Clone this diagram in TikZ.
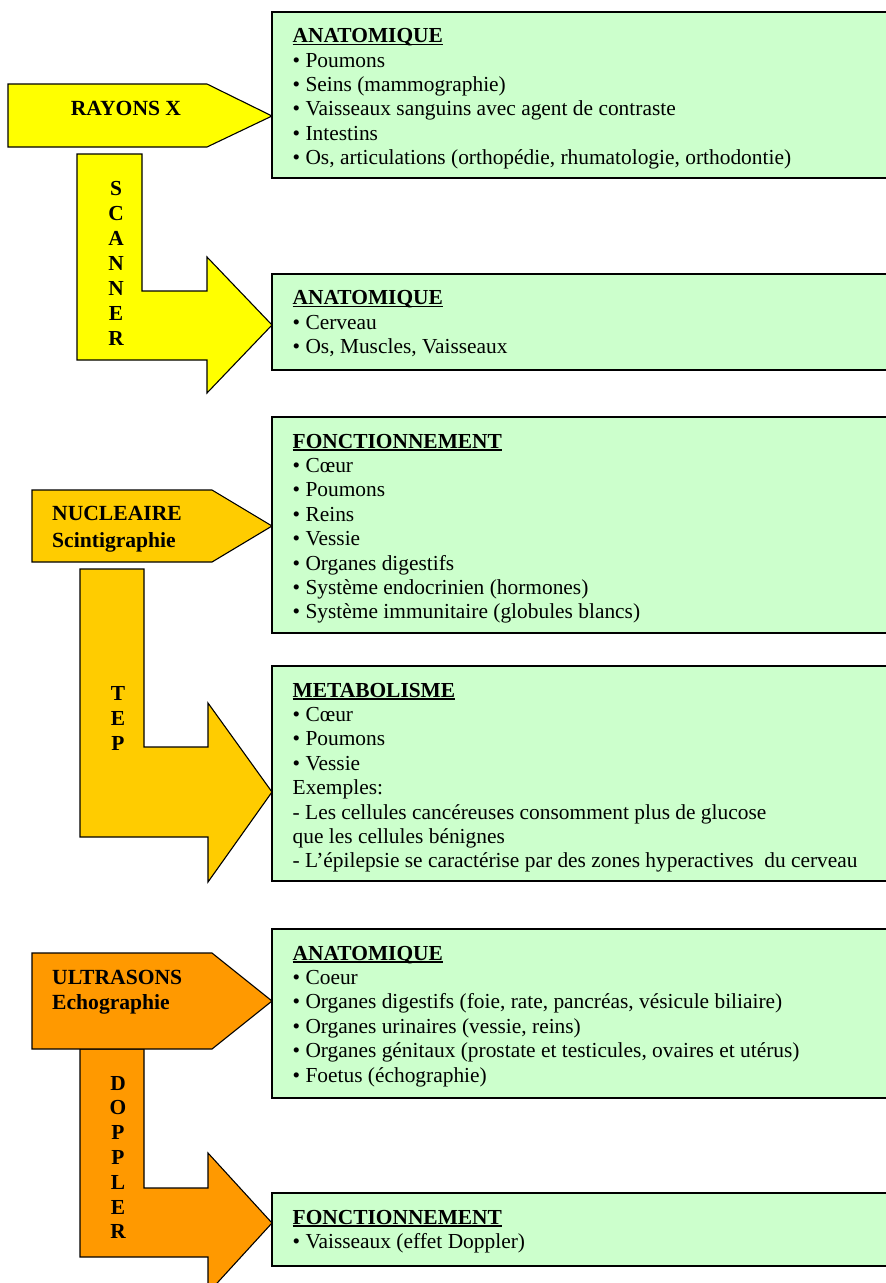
\documentclass[tikz,border=0pt]{standalone}
\usepackage{fontspec}
\setmainfont{Liberation Serif}
\definecolor{xray}{HTML}{FFFF00}
\definecolor{nucl}{HTML}{FFCC00}
\definecolor{ultra}{HTML}{FF9900}
\definecolor{infobg}{HTML}{CCFFCC}
% underlined heading with the rule set just under the baseline
\newcommand\headline[1]{\leavevmode\setbox0=\hbox{\bfseries #1}\rlap{\rule[-2.6pt]{\wd0}{1.4pt}}\box0}
\newcommand\itemlines[1]{\parbox[t]{600pt}{\raggedright\fontsize{21.4}{24.4}\selectfont #1}}
\newcommand\stackletters[2]{\parbox[t]{30pt}{\centering\fontsize{21.4}{#1}\selectfont\bfseries #2}}
\begin{document}
\begin{tikzpicture}[x=1pt,y=-1pt,
  shaftshape/.style={draw=black,line width=1.1pt,line join=miter},
  infobox/.style={draw=black,line width=1.6pt,fill=infobg},
  boxtext/.style={anchor=base west,inner sep=0pt},
  arrowlabel/.style={inner sep=0pt,font=\fontsize{21.6}{25}\selectfont\bfseries},
  vlabel/.style={anchor=base,inner sep=0pt}]
\path[use as bounding box,clip] (0,0) rectangle (886,1283);

% ---------- X-rays ----------
\draw[shaftshape,fill=xray] (77,154) -- (142,154) -- (142,291) -- (207,291) -- (207,257)
  -- (272,325) -- (207,393) -- (207,360) -- (77,360) -- cycle;
\draw[shaftshape,fill=xray] (8,84) -- (207,84) -- (272,116) -- (207,147) -- (8,147) -- cycle;
\node[arrowlabel,anchor=base] (rx) at (126,115) {RAYONS X};
\node[vlabel] (scan) at (116,195) {\stackletters{25}{S\\C\\A\\N\\N\\E\\R}};

\draw[infobox] (272,12) rectangle (910,178);
\node[boxtext] (anat1) at (292.5,42.7) {\itemlines{\headline{ANATOMIQUE}\\
• Poumons\\
• Seins (mammographie)\\
• Vaisseaux sanguins avec agent de contraste\\
• Intestins\\
• Os, articulations (orthopédie, rhumatologie, orthodontie)}};

\draw[infobox] (272,274) rectangle (910,370);
\node[boxtext] (anat2) at (292.5,304.7) {\itemlines{\headline{ANATOMIQUE}\\
• Cerveau\\
• Os, Muscles, Vaisseaux}};

% ---------- nuclear imaging ----------
\draw[shaftshape,fill=nucl] (80,569) -- (144,569) -- (144,747) -- (208,747) -- (208,703)
  -- (272,792) -- (208,882) -- (208,837) -- (80,837) -- cycle;
\draw[shaftshape,fill=nucl] (32,490) -- (212,490) -- (272,526) -- (212,562) -- (32,562) -- cycle;
\node[arrowlabel,anchor=base west,align=left] (nuc) at (52,520.7)
  {\parbox[t]{200pt}{\fontsize{21.6}{26.6}\selectfont\bfseries NUCLEAIRE\\Scintigraphie}};
\node[vlabel] (tep) at (118,700) {\stackletters{25}{T\\E\\P}};

\draw[infobox] (272,417) rectangle (910,633);
\node[boxtext] (fonc1) at (292.5,448) {\itemlines{\headline{FONCTIONNEMENT}\\
• Cœur\\
• Poumons\\
• Reins\\
• Vessie\\
• Organes digestifs\\
• Système endocrinien (hormones)\\
• Système immunitaire (globules blancs)}};

\draw[infobox] (272,666) rectangle (910,881);
\node[boxtext] (meta) at (292.5,697) {\itemlines{\headline{METABOLISME}\\
• Cœur\\
• Poumons\\
• Vessie\\
Exemples:\\
- Les cellules cancéreuses consomment plus de glucose\\
que les cellules bénignes\\
- L’épilepsie se caractérise par des zones hyperactives~ du cerveau}};

% ---------- ultrasound ----------
\draw[shaftshape,fill=ultra] (80,1049) -- (144,1049) -- (144,1188) -- (208,1188) -- (208,1153)
  -- (272,1223) -- (208,1293) -- (208,1257) -- (80,1257) -- cycle;
\draw[shaftshape,fill=ultra] (32,953) -- (212,953) -- (272,1001) -- (212,1049) -- (32,1049) -- cycle;
\node[arrowlabel,anchor=base west] (us) at (52,984.3)
  {\parbox[t]{200pt}{\fontsize{21.6}{25}\selectfont\bfseries ULTRASONS\\Echographie}};
\node[vlabel] (dop) at (118,1090) {\stackletters{24.8}{D\\O\\P\\P\\L\\E\\R}};

\draw[infobox] (272,929) rectangle (910,1098);
\node[boxtext] (anat3) at (292.5,960) {\itemlines{\headline{ANATOMIQUE}\\
• Coeur\\
• Organes digestifs (foie, rate, pancréas, vésicule biliaire)\\
• Organes urinaires (vessie, reins)\\
• Organes génitaux (prostate et testicules, ovaires et utérus)\\
• Foetus (échographie)}};

\draw[infobox] (272,1193) rectangle (910,1266);
\node[boxtext] (fonc2) at (292.5,1224) {\itemlines{\headline{FONCTIONNEMENT}\\
• Vaisseaux (effet Doppler)}};
\end{tikzpicture}
\end{document}
